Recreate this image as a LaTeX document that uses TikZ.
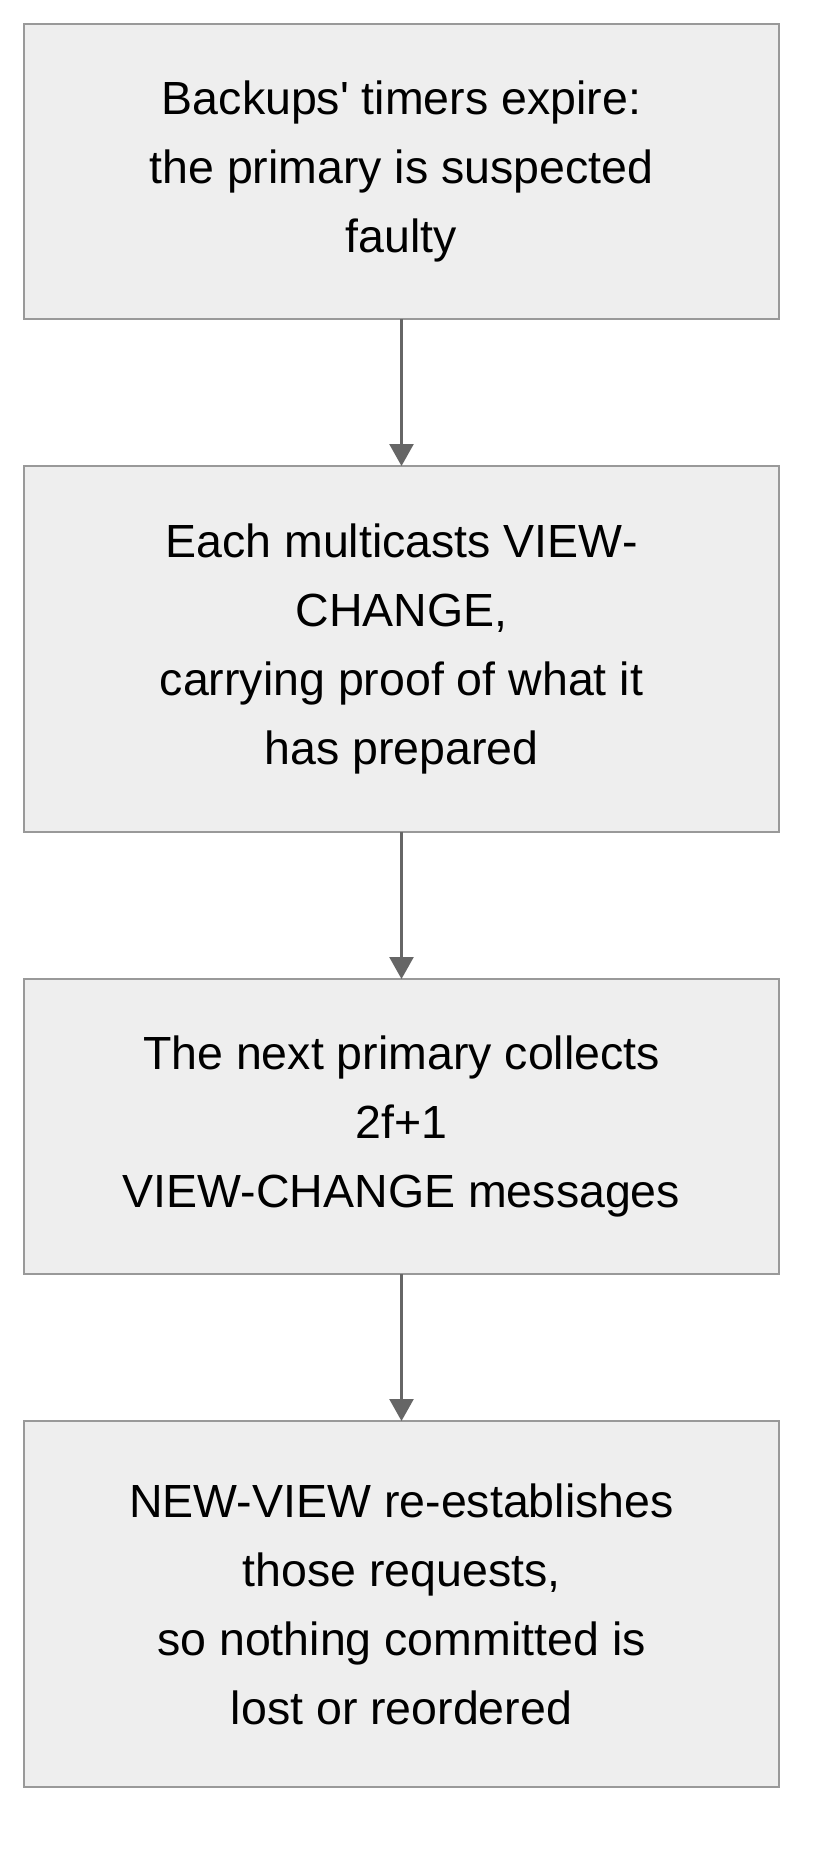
\documentclass[tikz,border=0pt]{standalone}
\usepackage{fontspec}
\setmainfont{Liberation Sans}
\usetikzlibrary{positioning,arrows.meta}
\definecolor{boxfill}{HTML}{EEEEEE}
\definecolor{boxline}{HTML}{999999}
\definecolor{arrowline}{HTML}{666666}
\begin{document}
\begin{tikzpicture}[x=1pt,y=1pt,
	stepbox/.style={draw=boxline,fill=boxfill,line width=2.5pt,minimum width=755pt,
		inner sep=0pt,outer sep=0pt,align=center,font=\fontsize{46.5}{69}\selectfont},
	flow/.style={draw=arrowline,line width=2.5pt,-{Triangle[width=24pt,length=22pt]}}]
	\useasboundingbox (0,0) rectangle (828,-1866);
	\node[stepbox,minimum height=295pt,anchor=north west] (expire) at (24,-24)
		{Backups\textquotesingle{} timers expire:\\the primary is suspected\\faulty};
	\node[stepbox,minimum height=366pt,below=147pt of expire] (viewchange)
		{Each multicasts VIEW-\\CHANGE,\\carrying proof of what it\\has prepared};
	\node[stepbox,minimum height=295pt,below=147pt of viewchange] (collect)
		{The next primary collects\\2f+1\\VIEW-CHANGE messages};
	\node[stepbox,minimum height=366pt,below=147pt of collect] (newview)
		{NEW-VIEW re-establishes\\those requests,\\so nothing committed is\\lost or reordered};
	\draw[flow] (expire) -- (viewchange);
	\draw[flow] (viewchange) -- (collect);
	\draw[flow] (collect) -- (newview);
\end{tikzpicture}
\end{document}
